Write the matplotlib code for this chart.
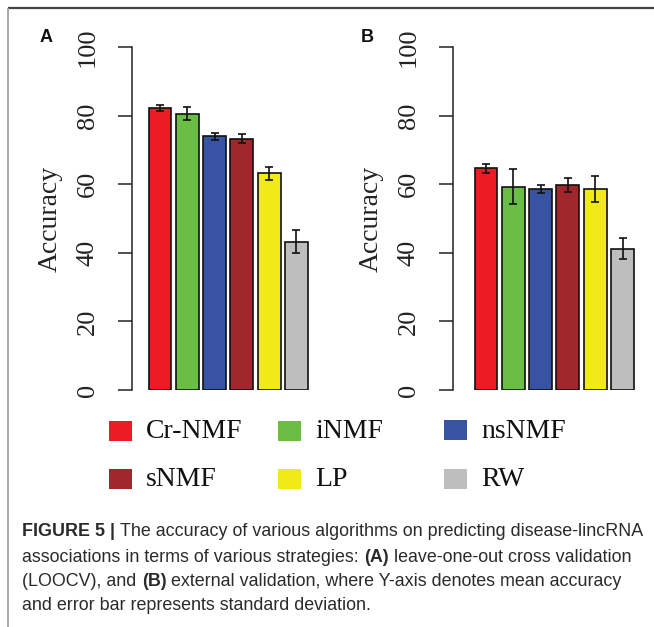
import matplotlib
matplotlib.use('Agg')
import matplotlib.pyplot as plt
from matplotlib.patches import Rectangle

# Data
methods = ['Cr-NMF', 'iNMF', 'nsNMF', 'sNMF', 'LP', 'RW']
colors = ['#ED1C24', '#6ABD45', '#3953A4', '#A0272B', '#F2EA18', '#BEBEBE']
loocv_mean = [82.1, 80.6, 74.0, 73.3, 63.2, 43.2]
loocv_sd = [0.9, 2.0, 1.0, 1.2, 1.9, 3.4]
ext_mean = [64.6, 59.3, 58.7, 59.8, 58.7, 41.2]
ext_sd = [1.2, 5.0, 1.2, 2.0, 3.8, 3.0]
yticks = [0, 20, 40, 60, 80, 100]

W, H = 654, 627
fig = plt.figure(figsize=(W / 100, H / 100), dpi=100)
serif = 'Liberation Serif'


def px_axes(x0, y0, x1, y1):
    # pixel box (top-left origin) -> figure fraction
    return [x0 / W, 1 - y1 / H, (x1 - x0) / W, (y1 - y0) / H]


def draw_panel(rect, means, sds, left_units, letter, letter_x):
    ax = fig.add_axes(rect)
    xs = list(range(len(means)))
    ax.bar(xs, means, width=0.84, color=colors, edgecolor='#111111', linewidth=1.2)
    ax.errorbar(xs, means, yerr=sds, fmt='none', ecolor='#111111',
                elinewidth=1.2, capsize=3, capthick=1.2)
    ax.set_ylim(0, 100)
    ax.set_xlim(-left_units, -left_units + (rect[2] * W) / 27.3)
    for s in ['top', 'right', 'bottom']:
        ax.spines[s].set_visible(False)
    ax.spines['left'].set_bounds(0, 100)
    ax.spines['left'].set_linewidth(1.1)
    ax.spines['left'].set_color('#222222')
    ax.set_xticks([])
    ax.set_yticks(yticks)
    ax.set_yticklabels([str(t) for t in yticks], rotation=90, va='center',
                       fontfamily=serif, fontsize=19, color='#222222')
    ax.tick_params(axis='y', length=10, width=1.1, pad=14, color='#222222')
    ax.set_ylabel('Accuracy', fontfamily=serif, fontsize=20, color='#222222', labelpad=10)
    fig.text(letter_x / W, 1 - 38 / H, letter, fontsize=13, fontweight='bold',
             fontfamily='Liberation Sans', ha='center', va='center', color='#111111')
    return ax


draw_panel(px_axes(132, 47, 320, 390), loocv_mean, loocv_sd, 1.025, 'A', 46)
draw_panel(px_axes(453, 47, 640, 390), ext_mean, ext_sd, 1.21, 'B', 367)

# overlay for legend, caption and frame
ov = fig.add_axes([0, 0, 1, 1], zorder=-1)
ov.set_xlim(0, W)
ov.set_ylim(H, 0)
ov.axis('off')

leg_pos = [(109, 431), (278, 431), (444, 430), (109, 479), (278, 479), (444, 479)]
for (x, y), name, c in zip(leg_pos, methods, colors):
    ov.add_patch(Rectangle((x, y - 10), 23, 20, facecolor=c, edgecolor='none'))
    ov.text(x + 37, y + 1, name, fontfamily=serif, fontsize=20, va='center',
            ha='left', color='#111111')

# frame lines
ov.plot([8, W], [8, 8], color='#444444', lw=1.6, solid_capstyle='butt')
ov.plot([8, 8], [8, H], color='#999999', lw=1.2, solid_capstyle='butt')

# caption with mixed bold segments
cap_lines = [
    [('FIGURE 5 | ', 'bold'), ('The accuracy of various algorithms on predicting disease-lincRNA', 'normal')],
    [('associations in terms of various strategies: ', 'normal'), ('(A)', 'bold'),
     (' leave-one-out cross validation', 'normal')],
    [('(LOOCV), and ', 'normal'), ('(B)', 'bold'),
     (' external validation, where Y-axis denotes mean accuracy', 'normal')],
    [('and error bar represents standard deviation.', 'normal')],
]
cap_y = [532, 557, 582, 606]
renderer = fig.canvas.get_renderer()
for segs, y in zip(cap_lines, cap_y):
    x = 22.5
    for txt, wt in segs:
        t = ov.text(x, y, txt, fontfamily='Liberation Sans', fontsize=12.85,
                    fontweight=wt, va='center', ha='left', color='#2b2b2b')
        bb = t.get_window_extent(renderer=renderer)
        x += bb.width

fig.savefig('out.png', dpi=100)
